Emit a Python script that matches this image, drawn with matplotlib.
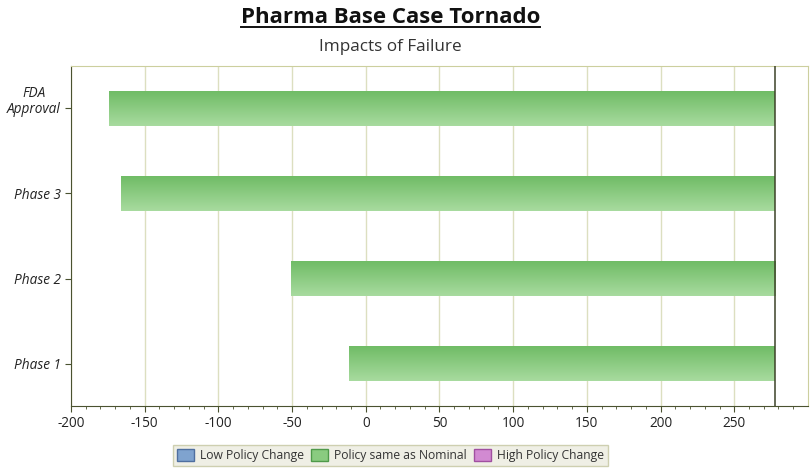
import matplotlib.pyplot as plt
import matplotlib.patches as mpatches
import matplotlib.transforms as mtransforms
from matplotlib.colors import LinearSegmentedColormap
from matplotlib.lines import Line2D
import numpy as np

plt.rcParams['font.family'] = ['Open Sans', 'DejaVu Sans']
plt.rcParams['axes.unicode_minus'] = False

stages = ["Phase 1", "Phase 2", "Phase 3", "FDA\nApproval"]
low_values = [-11.5, -51, -166, -174]
base_value = 277.5
legend_labels = ["Low Policy Change", "Policy same as Nominal", "High Policy Change"]

fig = plt.figure(figsize=(8.12, 4.72), dpi=100)
ax = fig.add_axes([0.0874, 0.1398, 0.9076, 0.7204])

# gradient bars (dark green on top, light at bottom)
grad = LinearSegmentedColormap.from_list("g", ["#a8db9f", "#70bc66"])
img = np.linspace(0, 1, 100).reshape(-1, 1)
h = 0.41
for i, v in enumerate(low_values):
    ax.imshow(img, cmap=grad, aspect="auto", origin="lower",
              extent=(v, base_value, i - h / 2, i + h / 2), zorder=2)

ax.axvline(base_value, color="#3c4228", lw=1.1, zorder=3)

ax.set_xlim(-200, 300)
ax.set_ylim(-0.5, 3.5)
ax.set_xticks(np.arange(-200, 251, 50))
ax.set_xticks(np.arange(-200, 300, 10), minor=True)
ax.set_yticks(range(len(stages)))
ax.set_yticklabels(stages, style="italic", fontsize=9.8, color="#222222",
                   multialignment="center", linespacing=1.15)
ax.tick_params(axis="x", labelsize=9.8, colors="#222222", length=4, color="#4a5230")
ax.tick_params(axis="x", which="minor", length=2.5, color="#4a5230")
ax.tick_params(axis="y", length=4, color="#4a5230")
ax.grid(axis="x", color="#dcdfc0", lw=1, zorder=0)
ax.set_axisbelow(True)

# two-line label: second line sits at the tick
lbl = ax.get_yticklabels()[-1]
lbl.set_transform(lbl.get_transform() +
                  mtransforms.ScaledTranslation(0, 7 / 72, fig.dpi_scale_trans))

for s in ["left", "bottom"]:
    ax.spines[s].set_color("#4a5230")
for s in ["top", "right"]:
    ax.spines[s].set_color("#cccf9e")

t = fig.text(0.481, 0.962, "Pharma Base Case Tornado", ha="center", va="center",
             fontsize=16, fontweight="bold", color="#111111")
fig.text(0.481, 0.900, "Impacts of Failure", ha="center", va="center",
         fontsize=12.3, color="#333333")

fig.canvas.draw()
bb = t.get_window_extent().transformed(fig.transFigure.inverted())
fig.add_artist(Line2D([bb.x0, bb.x1], [bb.y0 + 0.002, bb.y0 + 0.002],
                      transform=fig.transFigure, color="#111111", lw=1.4))

handles = [
    mpatches.Patch(facecolor="#7fa3cf", edgecolor="#4f6f9f", label=legend_labels[0]),
    mpatches.Patch(facecolor="#8acb80", edgecolor="#4f9a4a", label=legend_labels[1]),
    mpatches.Patch(facecolor="#d28ad2", edgecolor="#a050a0", label=legend_labels[2]),
]
leg = fig.legend(handles=handles, loc="center", bbox_to_anchor=(0.481, 0.035), ncol=3,
                 fontsize=8.7, frameon=True, fancybox=False, handlelength=1.4,
                 handleheight=1.1, columnspacing=0.6, handletextpad=0.5,
                 borderpad=0.3)
leg.get_frame().set_facecolor("#ecebdf")
leg.get_frame().set_edgecolor("#c4c6a0")
for txt in leg.get_texts():
    txt.set_color("#333333")

fig.savefig("out.png", dpi=100)
